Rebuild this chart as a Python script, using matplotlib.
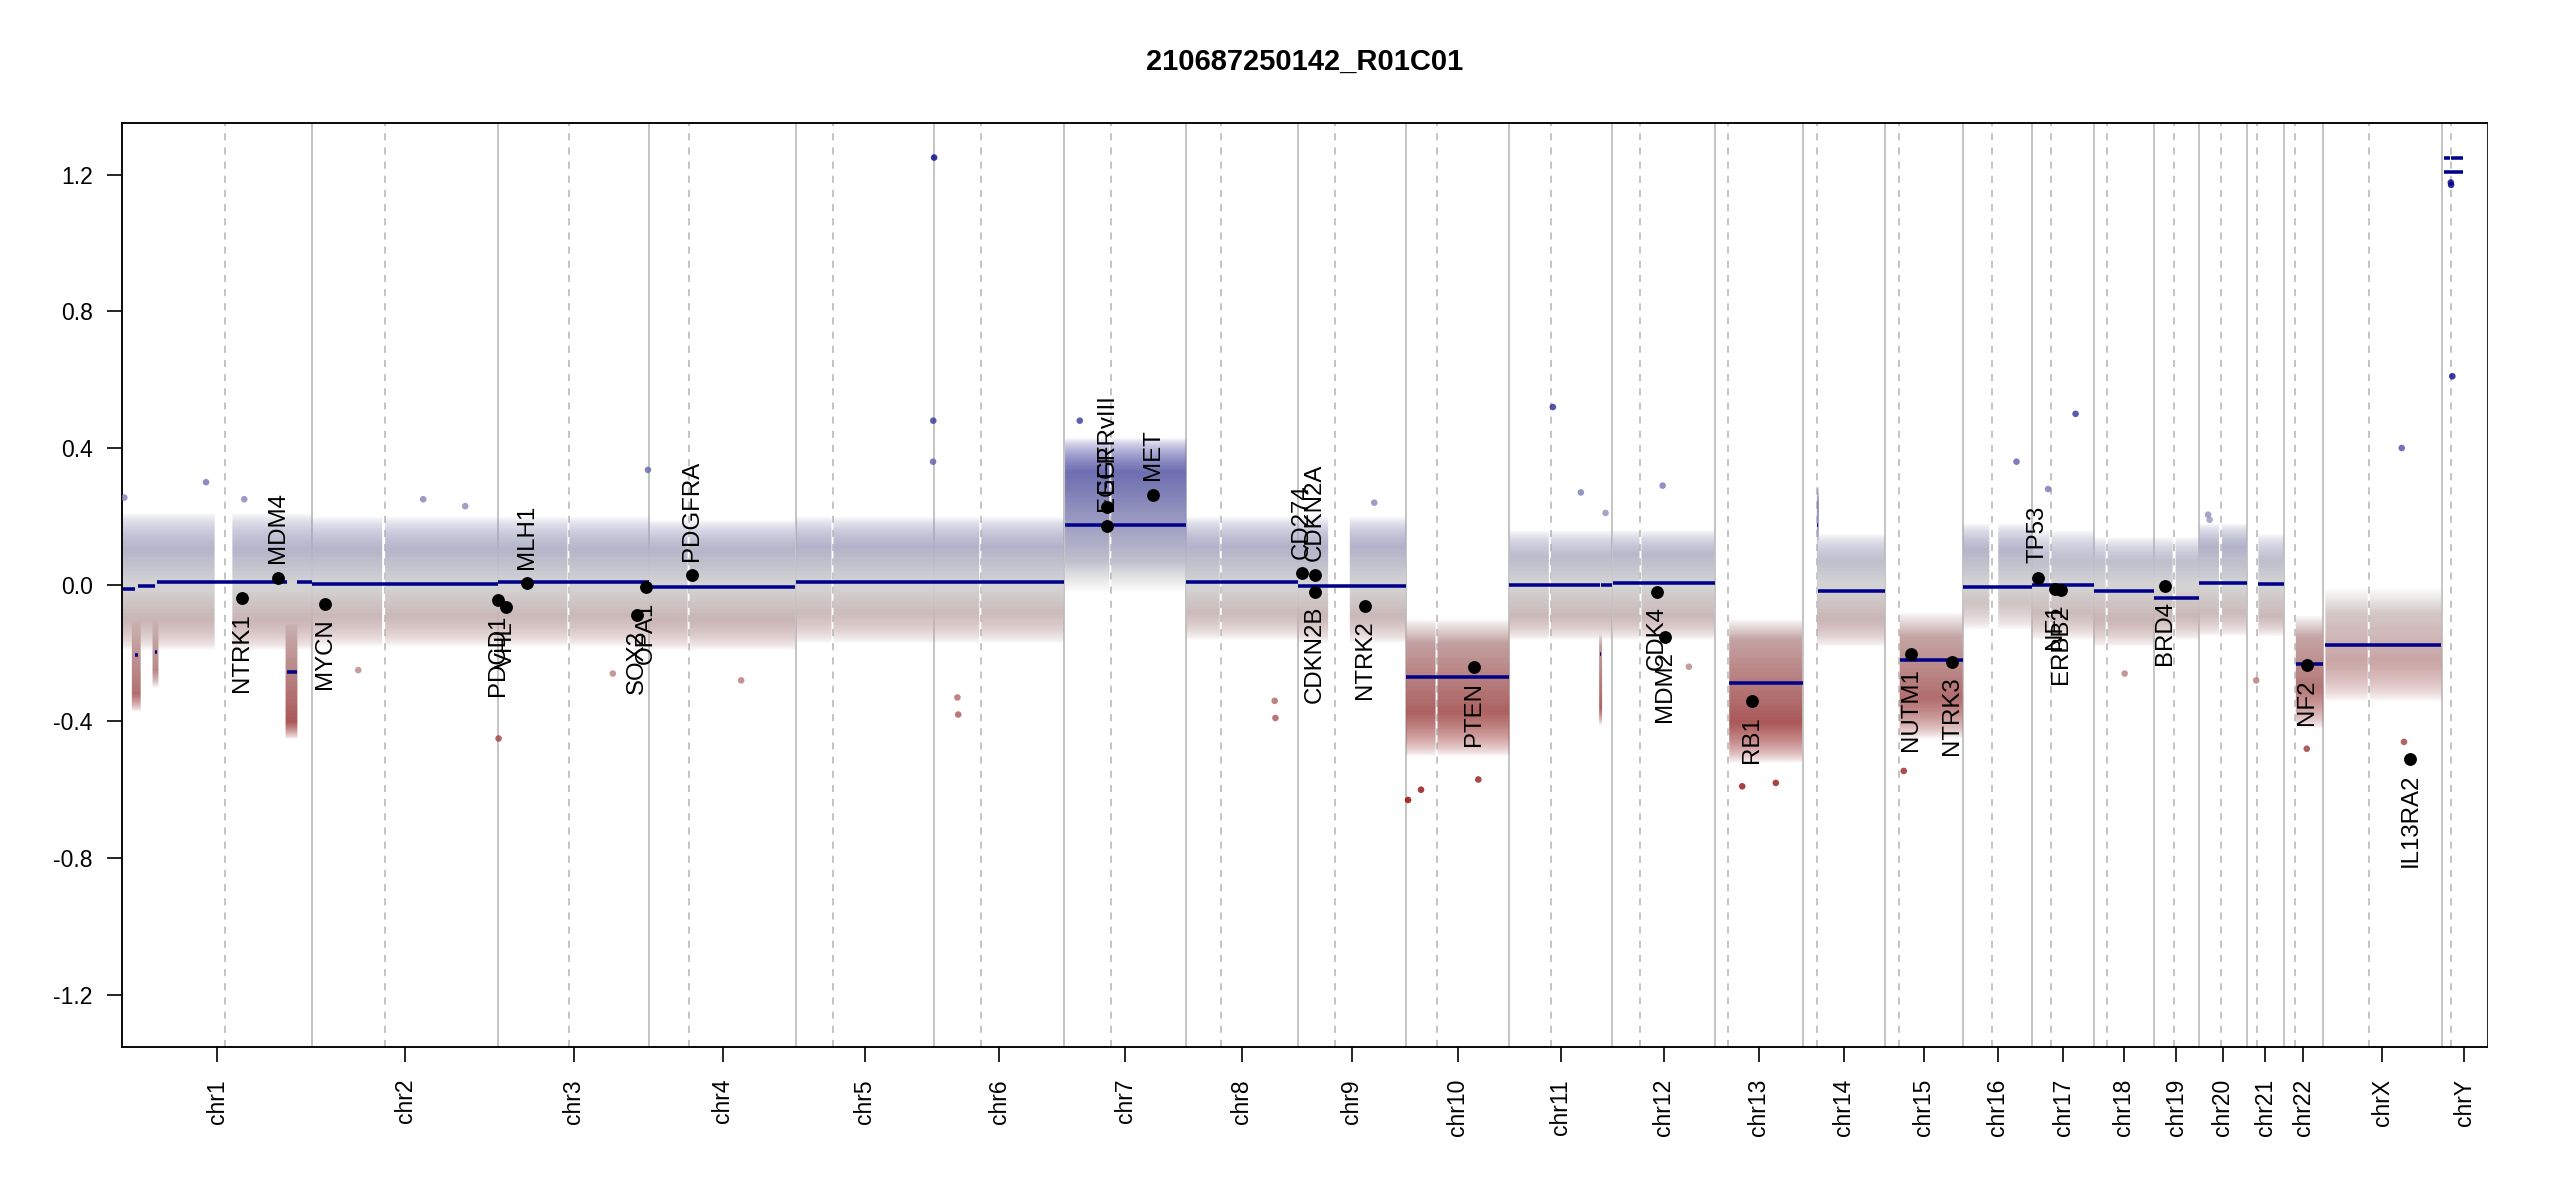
import numpy as np
import matplotlib
matplotlib.use("Agg")
import matplotlib.pyplot as plt
from matplotlib.colors import LinearSegmentedColormap, Normalize

plt.rcParams["font.family"] = ["Liberation Sans", "DejaVu Sans"]

title = "210687250142_R01C01"

# chromosome sizes (Mb, hg19) and p/q split lines
chrom_names = ["chr1", "chr2", "chr3", "chr4", "chr5", "chr6", "chr7", "chr8",
               "chr9", "chr10", "chr11", "chr12", "chr13", "chr14", "chr15",
               "chr16", "chr17", "chr18", "chr19", "chr20", "chr21", "chr22",
               "chrX", "chrY"]
chrom_sizes = [249.25, 243.20, 198.02, 191.15, 180.92, 171.12, 159.14, 146.36,
               141.21, 135.53, 135.01, 133.85, 115.17, 107.35, 102.53, 90.35,
               81.20, 78.08, 59.13, 63.03, 48.13, 51.30, 155.27, 59.37]
centro_pos = [134.2, 95.2, 93.1, 52.0, 48.8, 61.3, 60.4, 45.6, 48.6, 41.0,
              54.6, 36.5, 17.4, 18.2, 18.2, 37.8, 24.4, 16.5, 26.4, 28.3,
              12.4, 14.5, 60.1, 11.7]

# covered stretches of each chromosome (Mb)
arm_chrom = ["chr1", "chr1", "chr2", "chr2", "chr3", "chr3", "chr4", "chr4",
             "chr5", "chr5", "chr6", "chr6", "chr7", "chr7", "chr8", "chr8",
             "chr9", "chr9", "chr10", "chr10", "chr11", "chr11", "chr12", "chr12",
             "chr13", "chr14", "chr15", "chr16", "chr16", "chr17", "chr17",
             "chr18", "chr18", "chr19", "chr19", "chr20", "chr20", "chr21",
             "chr22", "chrX", "chrX"]
arm_start = [0.8, 144, 0.1, 95, 0.1, 93.5, 0.1, 52.5, 0.1, 49.5, 0.2, 62, 0.1, 61,
             0.2, 46.5, 0.2, 68, 0.1, 42, 0.2, 55, 0.1, 37.5, 19, 19, 20, 0.1, 46.5,
             0.1, 25.5, 0.1, 18, 0.2, 28, 0.1, 29.5, 14.5, 16, 2.7, 61.5]
arm_end = [121, 249.2, 91, 243.1, 90.5, 198, 49.5, 191, 46.5, 180.9, 59, 171, 58.5,
           159.1, 44, 146.3, 39, 141.1, 39.5, 135.5, 52, 135, 35, 133.8, 115.1,
           107.3, 102.5, 35, 90.3, 22.5, 81.1, 15.5, 78, 24.5, 59.1, 26, 63, 48.1,
           51.2, 58.5, 155]

# spread of the bin cloud per chromosome: dense core and sparse halo
core_lo = [-0.10, -0.09, -0.09, -0.10, -0.08, -0.08, 0.07, -0.08, -0.09, -0.37,
           -0.09, -0.09, -0.40, -0.10, -0.33, -0.05, -0.08, -0.10, -0.09, -0.08,
           -0.09, -0.30, -0.22, None]
core_hi = [0.10, 0.10, 0.10, 0.10, 0.11, 0.11, 0.33, 0.11, 0.11, -0.17, 0.08,
           0.09, -0.16, 0.07, -0.15, 0.10, 0.07, 0.07, 0.07, 0.11, 0.07, -0.15,
           -0.08, None]
halo_lo = [-0.19, -0.18, -0.18, -0.19, -0.17, -0.17, -0.02, -0.16, -0.17, -0.50,
           -0.16, -0.16, -0.52, -0.18, -0.45, -0.13, -0.16, -0.18, -0.16, -0.15,
           -0.15, -0.42, -0.34, None]
halo_hi = [0.21, 0.20, 0.20, 0.19, 0.20, 0.20, 0.43, 0.20, 0.20, -0.10, 0.16,
           0.16, -0.10, 0.15, -0.08, 0.18, 0.16, 0.14, 0.14, 0.18, 0.15, -0.09,
           -0.01, None]
cloud_density = [1, 1, 1, 1, 1, 1, 1, 1, 1, 1, 1, 1, 1, 1, 1, 1, 1, 1, 1, 1,
                 1, 1, 0.75, 0]

# small focal clusters
clu_chrom = ["chr1", "chr1", "chr1", "chr11", "chr14"]
clu_start = [13, 40, 214, 118, 19]
clu_end = [25, 48, 229, 121.5, 21.5]
clu_lo = [-0.32, -0.25, -0.40, -0.36, 0.15]
clu_hi = [-0.10, -0.10, -0.12, -0.18, 0.24]

# segments
seg_chrom = ["chr1", "chr1", "chr1", "chr1", "chr1", "chr1", "chr1", "chr2",
             "chr3", "chr4", "chr5", "chr6", "chr7", "chr8", "chr9", "chr10",
             "chr11", "chr11", "chr11", "chr12", "chr13", "chr14", "chr14",
             "chr15", "chr16", "chr17", "chr18", "chr19", "chr20", "chr21",
             "chr22", "chrX", "chrY", "chrY", "chrY"]
seg_start = [0.8, 17, 21, 43, 46, 216, 229, 0.1, 0.1, 0.1, 0.1, 0.2, 0.1, 0.2,
             0.2, 0.1, 0.2, 119, 120.5, 0.1, 19, 19, 20.5, 20, 0.1, 0.1, 0.1,
             0.2, 0.1, 14.5, 16, 2.7, 2.7, 2.7, 12]
seg_end = [17, 21, 43, 46, 216, 229, 249.2, 243.1, 198, 191, 180.9, 171, 159.1,
           146.3, 141.1, 135.5, 119, 120.5, 135, 133.8, 115.1, 20.5, 107.3,
           102.5, 90.3, 81.1, 78, 59.1, 63, 48.1, 51.2, 155, 28.4, 10.5, 28.4]
seg_value = [-0.013, -0.205, -0.004, -0.197, 0.007, -0.255, 0.007, 0.002, 0.007,
             -0.007, 0.007, 0.007, 0.175, 0.008, -0.004, -0.270, -0.002, -0.204,
             -0.002, 0.005, -0.287, 0.175, -0.018, -0.221, -0.007, -0.001,
             -0.018, -0.039, 0.006, 0.002, -0.233, -0.175, 1.207, 1.248, 1.248]

# isolated bins outside the cloud
out_chrom = ["chr1", "chr1", "chr1", "chr2", "chr2", "chr3", "chr3", "chr5",
             "chr5", "chr6", "chr6", "chr6", "chr8", "chr8", "chr10", "chr10",
             "chr10", "chr11", "chr11", "chr11", "chr12", "chr13", "chr13",
             "chr15", "chr16", "chr17", "chr17", "chr20", "chr20", "chr21",
             "chr22", "chrX", "chrX", "chrY", "chrY", "chrY", "chr4", "chr7",
             "chr9", "chr12", "chr18", "chr3", "chr2"]
out_pos = [3, 160, 110, 145, 60, 196, 0.5, 180, 180.3, 0.5, 31, 32, 117, 116,
           3, 20, 95, 57, 93.7, 126, 65.7, 36, 80, 25, 70, 21, 57, 12, 14, 12,
           30, 103, 106, 14, 12, 12.4, 120, 20, 100, 100, 40, 150, 200]
out_value = [0.255, 0.25, 0.30, 0.25, -0.25, 0.336, -0.45, 0.36, 0.48, 1.25,
             -0.33, -0.38, -0.39, -0.34, -0.63, -0.60, -0.57, 0.52, 0.27, 0.21,
             0.29, -0.59, -0.58, -0.545, 0.36, 0.28, 0.50, 0.205, 0.19, -0.28,
             -0.48, 0.40, -0.46, 0.61, 1.177, 1.17, -0.28, 0.48, 0.24, -0.24,
             -0.26, -0.26, 0.23]

# annotated genes
gene_names = ["NTRK1", "MDM4", "MYCN", "PDCD1", "VHL", "MLH1", "SOX2", "OPA1",
              "PDGFRA", "EGFR", "EGFRvIII", "MET", "CD274", "CDKN2A", "CDKN2B",
              "NTRK2", "PTEN", "CDK4", "MDM2", "RB1", "NUTM1", "NTRK3", "TP53",
              "NF1", "ERBB2", "BRD4", "NF2", "IL13RA2"]
gene_chrom = ["chr1", "chr1", "chr2", "chr2", "chr3", "chr3", "chr3", "chr3",
              "chr4", "chr7", "chr7", "chr7", "chr9", "chr9", "chr9", "chr9",
              "chr10", "chr12", "chr12", "chr13", "chr15", "chr15", "chr17",
              "chr17", "chr17", "chr19", "chr22", "chrX"]
gene_pos = [156.8, 204.5, 16.1, 242.8, 10.2, 37.05, 181.4, 193.3, 55.1, 55.2,
            55.2, 116.4, 5.46, 21.97, 22.0, 87.3, 89.6, 58.14, 69.2, 48.9,
            34.6, 88.5, 7.57, 29.5, 37.8, 15.35, 29.9, 114.2]
gene_value = [-0.040, 0.021, -0.056, -0.045, -0.065, 0.004, -0.090, -0.007,
              0.027, 0.173, 0.227, 0.263, 0.033, 0.027, -0.020, -0.062, -0.241,
              -0.021, -0.152, -0.341, -0.202, -0.225, 0.021, -0.012, -0.016,
              -0.005, -0.235, -0.509]

YLIM = (-1.352, 1.352)
LABEL_FONT = 11.5
CLUSTER_FADE = 0.05

chrom_start = dict(zip(chrom_names, np.concatenate([[0], np.cumsum(chrom_sizes)[:-1]])))
total_len = float(np.sum(chrom_sizes))


def gpos(chrom, pos):
    return chrom_start[chrom] + np.asarray(pos, dtype=float)


cmap = LinearSegmentedColormap.from_list(
    "cnv", ["darkred", "darkred", "lightgrey", "darkblue", "darkblue"])
norm = Normalize(-1.3, 1.3)

# density raster for the bin cloud: full inside the core, fading out to the halo edge
NX, NY = 2400, 1000
xs = (np.arange(NX) + 0.5) / NX * total_len
ys = YLIM[0] + (np.arange(NY) + 0.5) / NY * (YLIM[1] - YLIM[0])
density = np.zeros((NY, NX))


def add_cloud(x0, x1, clo, chi, hlo, hhi, weight):
    cols = (xs >= x0) & (xs <= x1)
    prof = np.zeros(NY)
    prof[(ys >= clo) & (ys <= chi)] = 1.0
    low = (ys >= hlo) & (ys < clo)
    prof[low] = (ys[low] - hlo) / (clo - hlo)
    high = (ys > chi) & (ys <= hhi)
    prof[high] = (hhi - ys[high]) / (hhi - chi)
    density[:, cols] = np.maximum(density[:, cols], weight * prof[:, None])


for ch, s, e in zip(arm_chrom, arm_start, arm_end):
    i = chrom_names.index(ch)
    add_cloud(gpos(ch, s), gpos(ch, e), core_lo[i], core_hi[i],
              halo_lo[i], halo_hi[i], cloud_density[i])
for ch, s, e, lo, hi in zip(clu_chrom, clu_start, clu_end, clu_lo, clu_hi):
    add_cloud(gpos(ch, s), gpos(ch, e), lo, hi, lo - CLUSTER_FADE, hi + CLUSTER_FADE, 1.0)

rgba = np.repeat(cmap(norm(ys))[:, None, :], NX, axis=1)
rgba[..., 3] = 0.96 * density ** 0.75

fig = plt.figure(figsize=(17, 8), dpi=150)
ax = fig.add_axes([122 / 2550, 1 - 1046.7 / 1200, (2487 - 122) / 2550, (1046.7 - 122.7) / 1200])

# chromosome borders and centromeres
for name in chrom_names[1:]:
    ax.axvline(chrom_start[name], color="#BEBEBE", lw=0.85, zorder=1)
for name, c in zip(chrom_names, centro_pos):
    ax.axvline(gpos(name, c), color="#BEBEBE", lw=0.85, ls=(0, (4, 4)), zorder=1)

ax.imshow(rgba, origin="lower", aspect="auto", interpolation="bilinear",
          extent=[0, total_len, YLIM[0], YLIM[1]], zorder=2)

ox = [gpos(c, p) for c, p in zip(out_chrom, out_pos)]
ax.scatter(ox, out_value, c=out_value, cmap=cmap, norm=norm, s=10, linewidths=0,
           alpha=0.8, zorder=3)

# segments
for ch, s, e, v in zip(seg_chrom, seg_start, seg_end, seg_value):
    ax.plot([gpos(ch, s), gpos(ch, e)], [v, v], color="#00008B", lw=1.7,
            solid_capstyle="butt", zorder=4)

# genes
gx = [gpos(c, p) for c, p in zip(gene_chrom, gene_pos)]
ax.scatter(gx, gene_value, color="black", s=38, linewidths=0, zorder=6)
for name, x, v in zip(gene_names, gx, gene_value):
    up = v > 0
    ax.annotate(name, (x, v), xytext=(0, 7 if up else -7), textcoords="offset points",
                rotation=90, ha="center", va="bottom" if up else "top",
                fontsize=LABEL_FONT, zorder=7)

ax.set_xlim(0, total_len)
ax.set_ylim(*YLIM)

yt = np.arange(-1.2, 1.21, 0.4)
ax.set_yticks(yt)
ax.set_yticklabels([f"{v:.1f}" for v in yt])
centers = [chrom_start[n] + s / 2 for n, s in zip(chrom_names, chrom_sizes)]
ax.set_xticks(centers)
ax.set_xticklabels(chrom_names, rotation=90, va="top")
ax.tick_params(axis="both", length=7, width=0.8, direction="out", labelsize=11)
ax.tick_params(axis="y", pad=7)
ax.tick_params(axis="x", pad=8.5)

for side in ["left", "top", "bottom"]:
    ax.spines[side].set_linewidth(0.9)
ax.spines["right"].set_linewidth(0.4)

fig.text((122 + 2487) / 2 / 2550, 1 - 62 / 1200, title, ha="center", va="center",
         fontsize=14, fontweight="bold")

fig.savefig("out.png", dpi=150)
